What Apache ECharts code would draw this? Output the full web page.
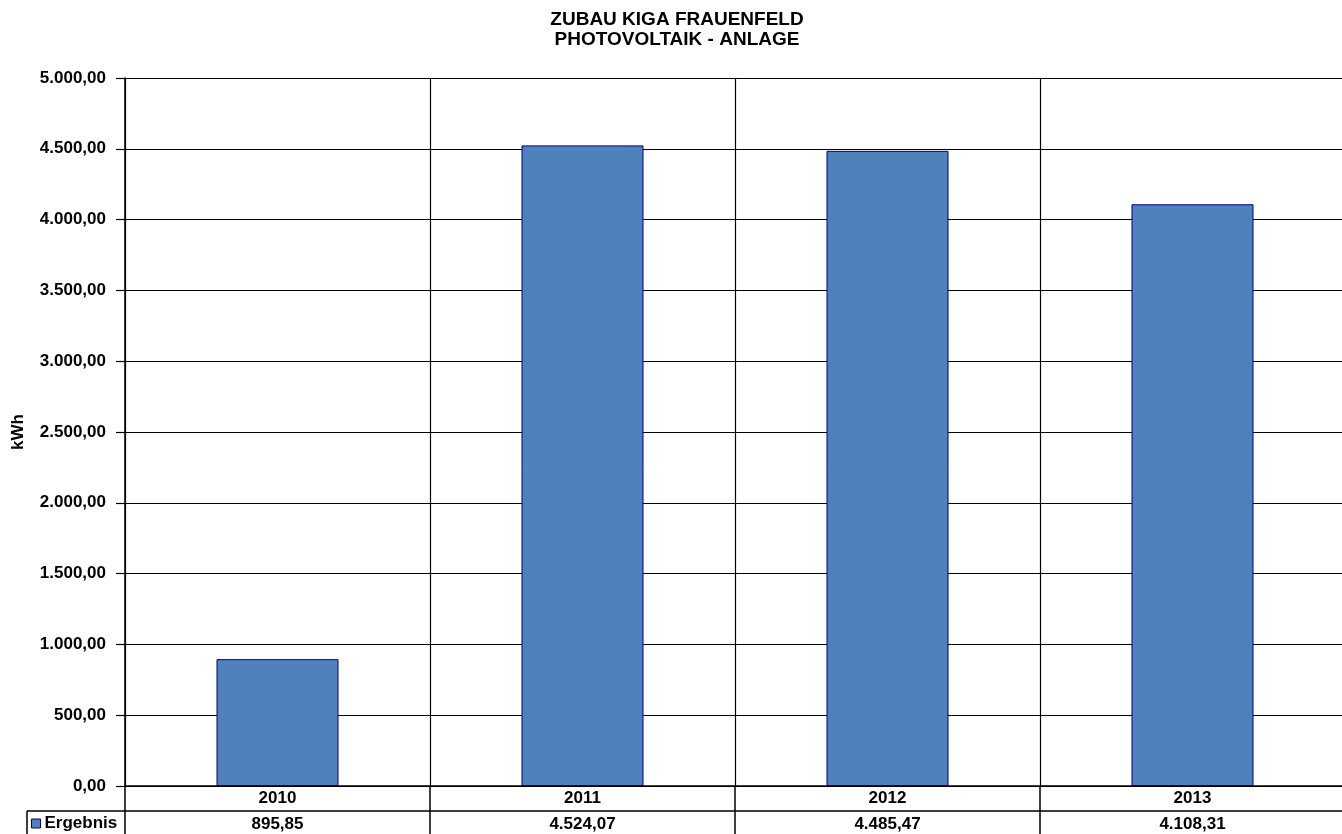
<!DOCTYPE html>
<html>
<head>
<meta charset="utf-8">
<script src="https://cdn.jsdelivr.net/npm/echarts@6/dist/echarts.min.js"></script>
<style>
html,body{margin:0;padding:0;background:#fff;overflow:hidden;}
#chart{width:1342px;height:834px;}
</style>
</head>
<body>
<div id="chart"></div>
<script>
var categories = ['2010', '2011', '2012', '2013'];
var ergebnis = [895.85, 4524.07, 4485.47, 4108.31];
var seriesName = 'Ergebnis';
var titleLines = ['ZUBAU KIGA FRAUENFELD', 'PHOTOVOLTAIK - ANLAGE'];
var yAxisName = 'kWh';

function fmtDE(v) {
  var parts = Number(v).toFixed(2).split('.');
  var intPart = parts[0].replace(/\B(?=(\d{3})+(?!\d))/g, '.');
  return intPart + ',' + parts[1];
}

var FONT = 'Liberation Sans, Arial, sans-serif';
var FS = 17;
var chart = echarts.init(document.getElementById('chart'));
chart.setOption({
  backgroundColor: '#ffffff',
  animation: false,
  title: {
    text: titleLines.join('\n'),
    left: 672,
    textAlign: 'center',
    top: 5,
    textStyle: { fontFamily: FONT, fontSize: 19, fontWeight: 'bold', color: '#000', lineHeight: 20 }
  },
  legend: {
    data: [seriesName],
    left: 31,
    top: 815,
    icon: 'rect',
    itemWidth: 9,
    itemHeight: 9,
    itemGap: 4,
    padding: 0,
    textStyle: { fontFamily: FONT, fontSize: FS, fontWeight: 'bold', color: '#000', padding: [0, 0, 0, -1] },
    itemStyle: { borderColor: '#000080', borderWidth: 1 }
  },
  grid: { left: 125, top: 78, width: 1220, height: 708, containLabel: false, outerBoundsMode: 'none' },
  xAxis: [{
    type: 'category',
    data: categories,
    position: 'bottom',
    boundaryGap: true,
    axisLine: { show: true, lineStyle: { color: '#000', width: 1.5 } },
    axisTick: { show: true, length: 50, interval: 0, lineStyle: { color: '#000', width: 1.5 } },
    axisLabel: { fontFamily: FONT, fontSize: FS, fontWeight: 'bold', color: '#000', margin: 4 },
    splitLine: { show: true, interval: 0, lineStyle: { color: '#000', width: 1.2 } }
  }, {
    type: 'category',
    data: categories,
    position: 'bottom',
    offset: 25,
    boundaryGap: true,
    axisLine: { show: true, lineStyle: { color: '#000', width: 1.5 } },
    axisTick: { show: false },
    axisLabel: {
      fontFamily: FONT, fontSize: FS, fontWeight: 'bold', color: '#000', margin: 5,
      formatter: function (v, i) { return fmtDE(ergebnis[i]); }
    },
    splitLine: { show: false }
  }],
  yAxis: {
    type: 'value',
    min: 0,
    max: 5000,
    interval: 500,
    name: yAxisName,
    nameLocation: 'middle',
    nameGap: 98,
    nameRotate: 90,
    nameTextStyle: { fontFamily: FONT, fontSize: FS, fontWeight: 'bold', color: '#000' },
    axisLine: { show: true, lineStyle: { color: '#000', width: 1.5 } },
    axisTick: { show: true, length: 9, lineStyle: { color: '#000', width: 1.2 } },
    axisLabel: { fontFamily: FONT, fontSize: FS, fontWeight: 'bold', color: '#000', margin: 19, formatter: fmtDE },
    splitLine: { show: true, lineStyle: { color: '#000', width: 1.2 } }
  },
  graphic: [
    { type: 'line', shape: { x1: 27, y1: 811, x2: 125, y2: 811 }, style: { stroke: '#000', lineWidth: 1.5 } },
    { type: 'line', shape: { x1: 27, y1: 811, x2: 27, y2: 834 }, style: { stroke: '#000', lineWidth: 1.5 } }
  ],
  series: [{
    name: seriesName,
    type: 'bar',
    data: ergebnis,
    barWidth: '40%',
    itemStyle: { color: '#4F81BD', borderColor: '#000080', borderWidth: 1 }
  }]
});
</script>
</body>
</html>
